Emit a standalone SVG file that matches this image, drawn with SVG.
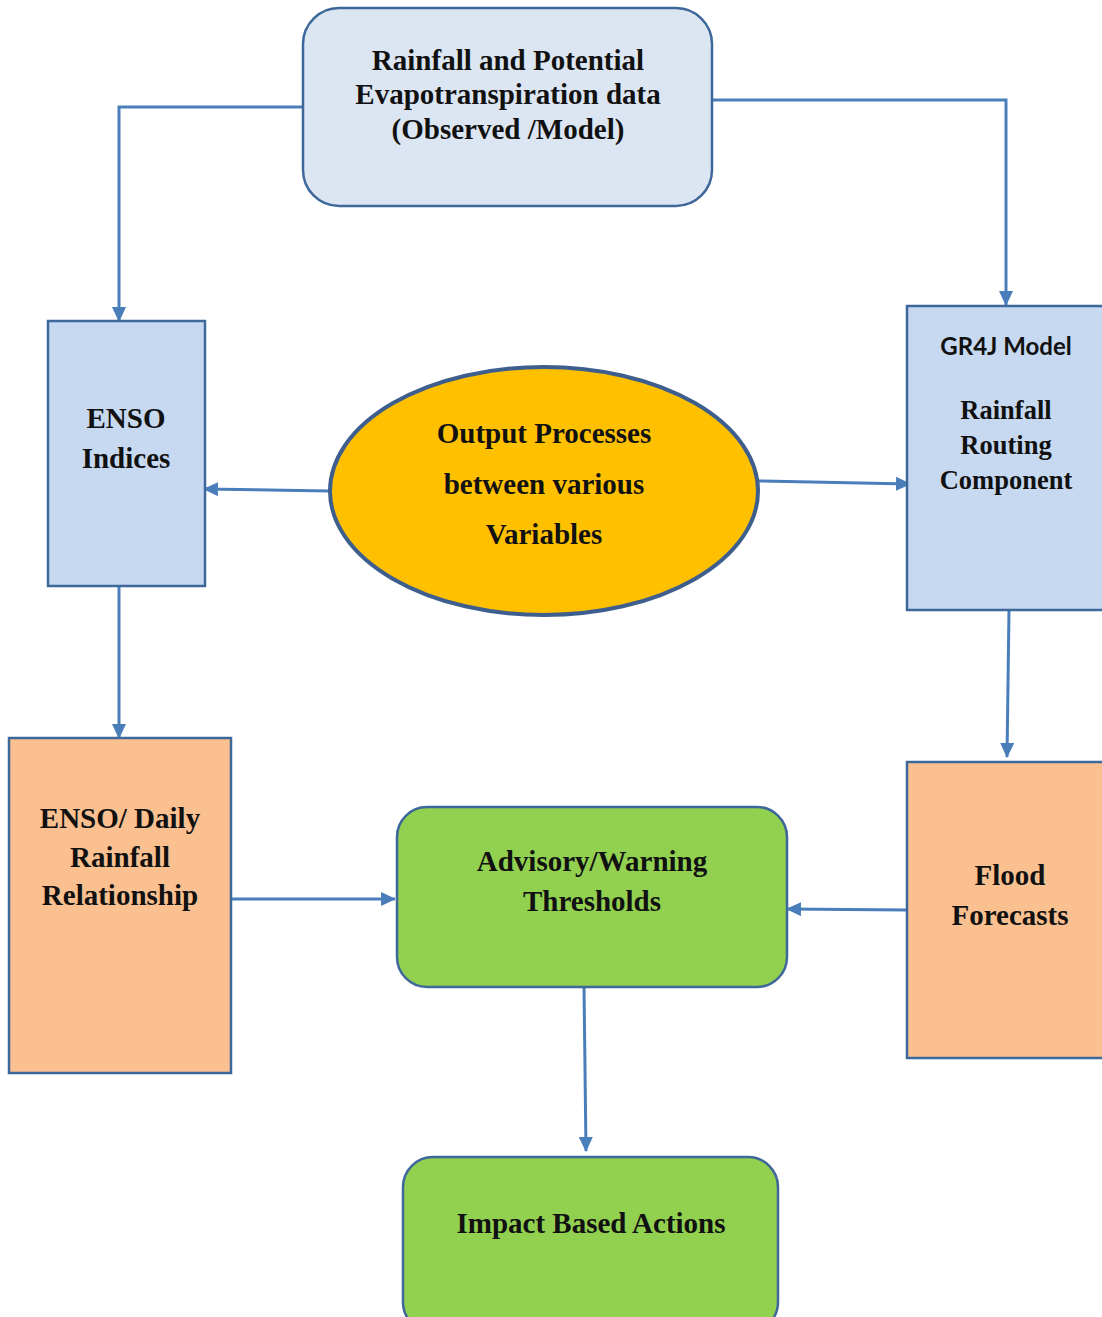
<svg xmlns="http://www.w3.org/2000/svg" width="1102" height="1317" viewBox="0 0 1102 1317">
<style>
.t{font-family:"Liberation Serif","Times New Roman",serif;font-weight:bold;font-size:29px;fill:#111;text-anchor:middle}
.s{font-family:Lato,"Open Sans",sans-serif;font-weight:bold;font-size:24px;fill:#111;text-anchor:middle}
.n{stroke:#3E679A;stroke-width:2.5}
.c{fill:none;stroke:#4A7EBB;stroke-width:3}
</style>
<defs>
<marker id="a" markerUnits="userSpaceOnUse" markerWidth="15" markerHeight="14" refX="14" refY="7" orient="auto">
<path d="M0,0 L15,7 L0,14 Z" fill="#4A7EBB"/>
</marker>
</defs>
<rect width="1102" height="1317" fill="#fff"/>
<g id="connectors">
<path class="c" d="M303,107 H119 V321" marker-end="url(#a)"/>
<path class="c" d="M712,100 H1006 V305" marker-end="url(#a)"/>
<path class="c" d="M329,491 L204,489" marker-end="url(#a)"/>
<path class="c" d="M759,481 L910,484" marker-end="url(#a)"/>
<path class="c" d="M119,586 V738" marker-end="url(#a)"/>
<path class="c" d="M1009,610 L1007,757" marker-end="url(#a)"/>
<path class="c" d="M231,899 H395" marker-end="url(#a)"/>
<path class="c" d="M907,910 L787,909" marker-end="url(#a)"/>
<path class="c" d="M584,987 L586,1151" marker-end="url(#a)"/>
</g>
<g id="rainfall-data">
<rect class="n" x="303" y="8" width="409" height="198" rx="36" fill="#DCE6F2"/>
<text class="t" x="508" y="70">Rainfall and Potential</text>
<text class="t" x="508" y="104">Evapotranspiration data</text>
<text class="t" x="508" y="139">(Observed /Model)</text>
</g>
<g id="enso-indices">
<rect class="n" x="48" y="321" width="157" height="265" fill="#C6D9F1"/>
<text class="t" x="126" y="428">ENSO</text>
<text class="t" x="126" y="468">Indices</text>
</g>
<g id="output-processes">
<ellipse cx="544" cy="491" rx="214" ry="124" fill="#FFC000" stroke="#3E5F8E" stroke-width="4"/>
<text class="t" x="544" y="443">Output Processes</text>
<text class="t" x="544" y="494">between various</text>
<text class="t" x="544" y="544">Variables</text>
</g>
<g id="gr4j">
<rect class="n" x="907" y="306" width="200" height="304" fill="#C6D9F1"/>
<text class="s" x="1006" y="355">GR4J Model</text>
<text class="t" x="1006" y="419" style="font-size:26.5px">Rainfall</text>
<text class="t" x="1006" y="454" style="font-size:26.5px">Routing</text>
<text class="t" x="1006" y="489" style="font-size:26.5px">Component</text>
</g>
<g id="enso-daily">
<rect class="n" x="9" y="738" width="222" height="335" fill="#FAC090"/>
<text class="t" x="120" y="828">ENSO/ Daily</text>
<text class="t" x="120" y="867">Rainfall</text>
<text class="t" x="120" y="905">Relationship</text>
</g>
<g id="advisory">
<rect class="n" x="397" y="807" width="390" height="180" rx="30" fill="#92D050"/>
<text class="t" x="592" y="871">Advisory/Warning</text>
<text class="t" x="592" y="911">Thresholds</text>
</g>
<g id="flood">
<rect class="n" x="907" y="762" width="200" height="296" fill="#FAC090"/>
<text class="t" x="1010" y="885">Flood</text>
<text class="t" x="1010" y="925">Forecasts</text>
</g>
<g id="impact">
<rect class="n" x="403" y="1157" width="375" height="175" rx="30" fill="#92D050"/>
<text class="t" x="591" y="1233">Impact Based Actions</text>
</g>
</svg>
